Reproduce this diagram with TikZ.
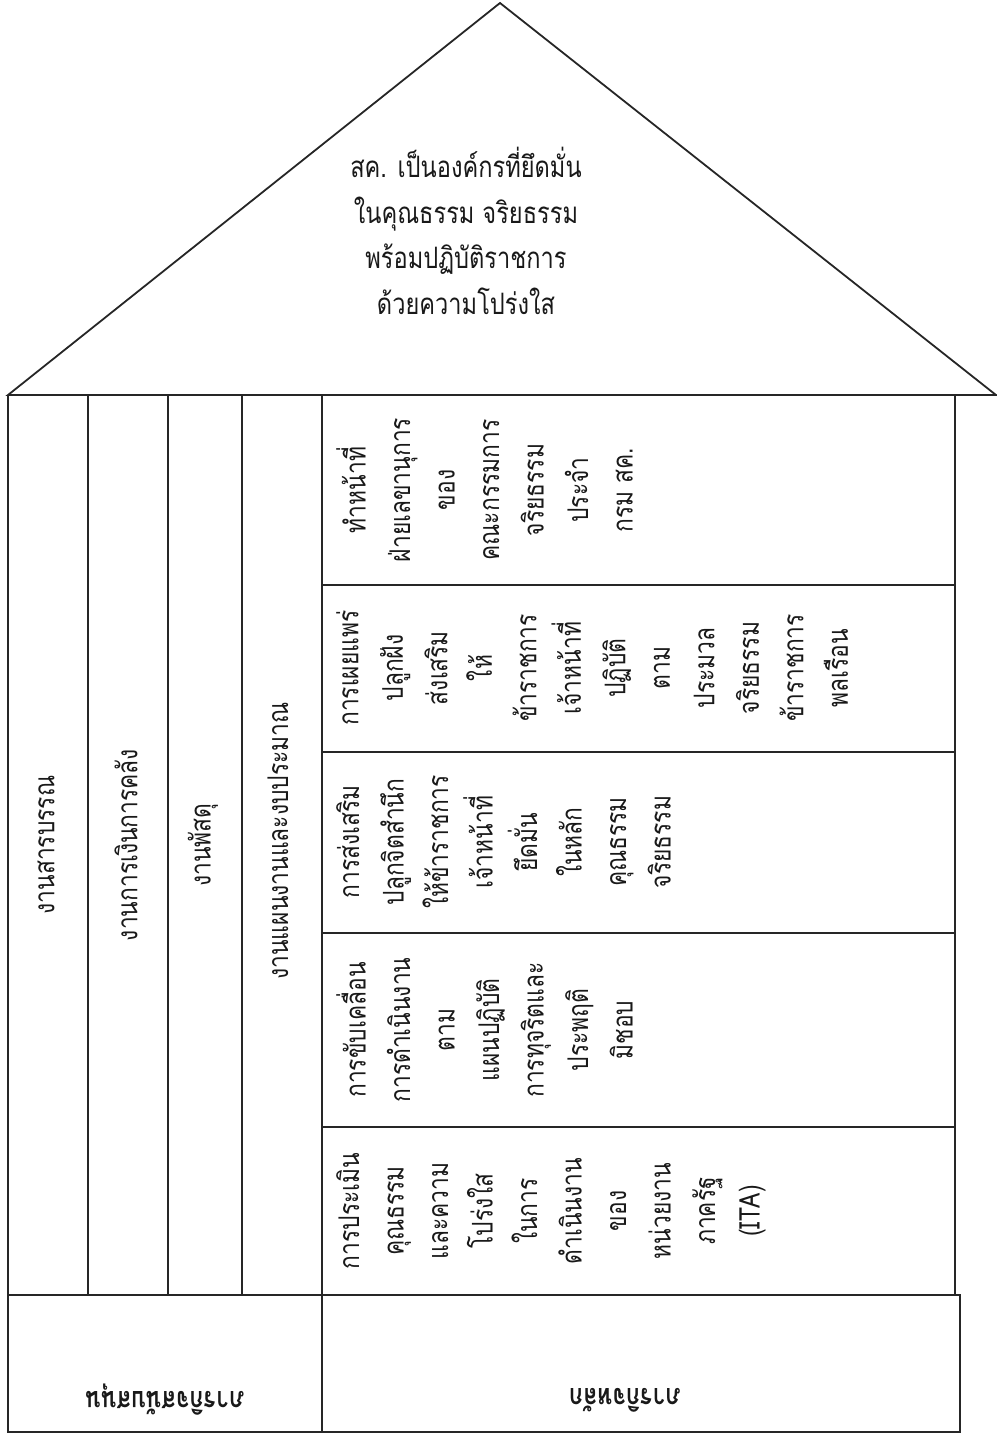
\documentclass[tikz,border=0pt]{standalone}
\usepackage{fontspec}
\newfontfamily\thaifont[Script=Thai,FakeStretch=0.8]{Loma}
\begin{document}
\begin{tikzpicture}[x=1pt,y=-1pt,
  frame/.style={line width=1.8pt,draw=black!85},
  txt/.style={font=\thaifont\fontsize{28.5}{44.5}\selectfont,inner sep=0pt,align=center,text=black!90},
  coltxt/.style={txt,rotate=90},
  boxtxt/.style={txt,rotate=90,anchor=north},
  basetxt/.style={font=\thaifont\bfseries\fontsize{29}{30}\selectfont,inner sep=0pt,rotate=180,text=black!90}]
\useasboundingbox (0,0) rectangle (996,1435);
% roof
\draw[frame] (8,395) -- (500,3) -- (996,395) -- cycle;
\node[txt,font=\thaifont\fontsize{29.5}{45.5}\selectfont] (roof) at (466,231)
  {สค. เป็นองค์กรที่ยึดมั่น\\ในคุณธรรม จริยธรรม\\พร้อมปฏิบัติราชการ\\ด้วยความโปร่งใส};
% body frame
\draw[frame] (8,395) -- (8,1432);
\foreach \x in {88,168,242} \draw[frame] (\x,395) -- (\x,1295);
\draw[frame] (322,395) -- (322,1432);
\draw[frame] (955,395) -- (955,1295);
\foreach \y in {585,752,933,1127} \draw[frame] (322,\y) -- (955,\y);
\draw[frame] (8,1295) rectangle (322,1432);
\draw[frame] (322,1295) rectangle (960,1432);
% left columns
\node[coltxt] (c1) at (46,845) {งานสารบรรณ};
\node[coltxt] (c2) at (126,845) {งานการเงินการคลัง};
\node[coltxt] (c3) at (203,845) {งานพัสดุ};
\node[coltxt] (c4) at (278,841) {งานแผนงานและงบประมาณ};
% right boxes
\node[boxtxt] (b1) at (336,490) {ทำหน้าที่\\ฝ่ายเลขานุการ\\ของ\\คณะกรรมการ\\จริยธรรม\\ประจำ\\กรม สค.};
\node[boxtxt] (b2) at (336,668) {การเผยแพร่\\ปลูกฝัง\\ส่งเสริม\\ให้\\ข้าราชการ\\เจ้าหน้าที่\\ปฏิบัติ\\ตาม\\ประมวล\\จริยธรรม\\ข้าราชการ\\พลเรือน};
\node[boxtxt] (b3) at (336,842) {การส่งเสริม\\ปลูกจิตสำนึก\\ให้ข้าราชการ\\เจ้าหน้าที่\\ยึดมั่น\\ในหลัก\\คุณธรรม\\จริยธรรม};
\node[boxtxt] (b4) at (336,1030) {การขับเคลื่อน\\การดำเนินงาน\\ตาม\\แผนปฏิบัติ\\การทุจริตและ\\ประพฤติ\\มิชอบ};
\node[boxtxt] (b5) at (336,1211) {การประเมิน\\คุณธรรม\\และความ\\โปร่งใส\\ในการ\\ดำเนินงาน\\ของ\\หน่วยงาน\\ภาครัฐ\\(ITA)};
% bases
\node[basetxt] (m1) at (165,1400) {ภารกิจสนับสนุน};
\node[basetxt] (m2) at (625,1400) {ภารกิจหลัก};
\end{tikzpicture}
\end{document}
